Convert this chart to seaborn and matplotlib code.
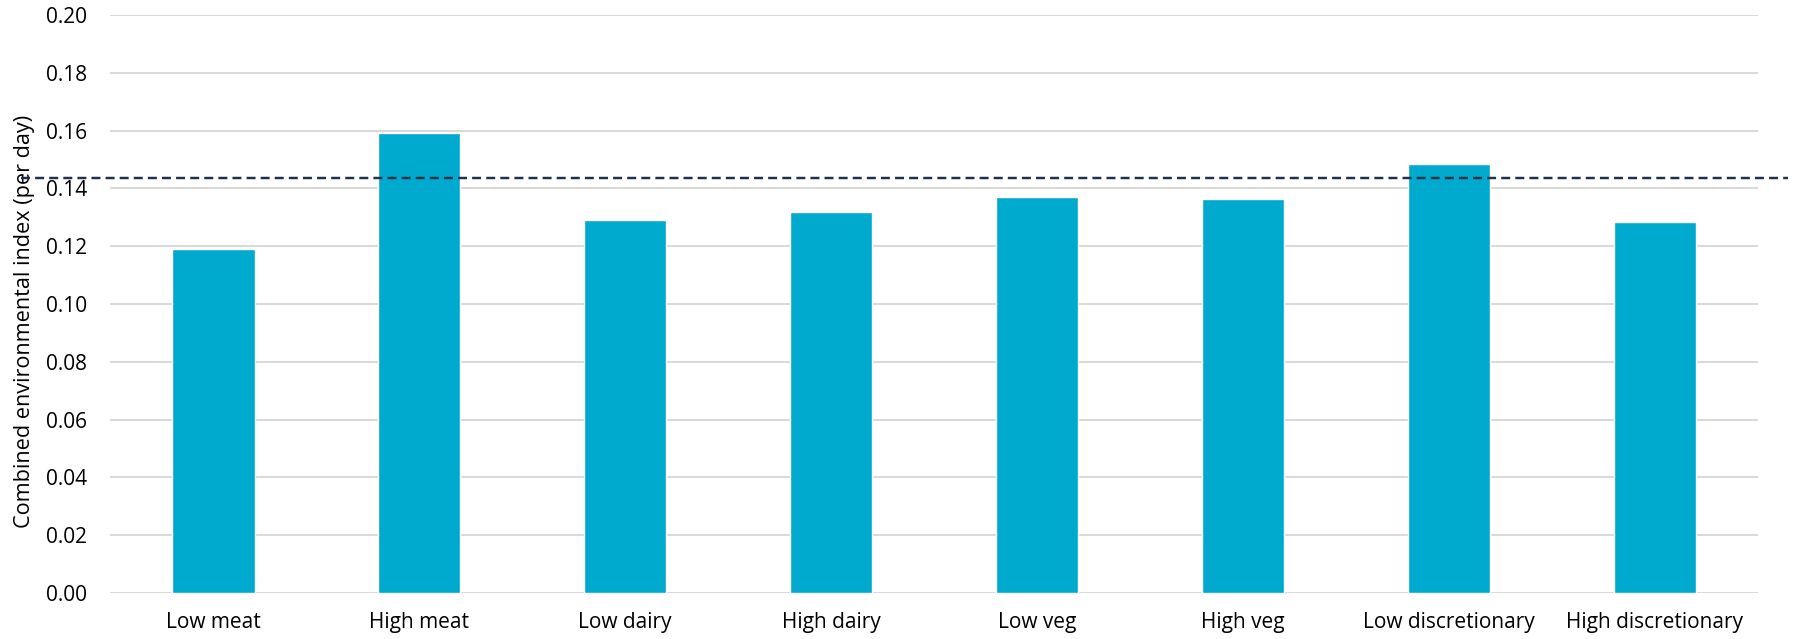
import matplotlib
matplotlib.use("Agg")
import matplotlib.pyplot as plt
import seaborn as sns
import pandas as pd

categories = ["Low meat", "High meat", "Low dairy", "High dairy",
              "Low veg", "High veg", "Low discretionary", "High discretionary"]
values = [0.1189, 0.1591, 0.1289, 0.1317, 0.1371, 0.1362, 0.1484, 0.1284]
reference_value = 0.1436
y_ticks = [0.00, 0.02, 0.04, 0.06, 0.08, 0.10, 0.12, 0.14, 0.16, 0.18, 0.20]

sns.set_theme(style="white")
plt.rcParams["font.family"] = ["Open Sans", "DejaVu Sans"]

df = pd.DataFrame({"scenario": categories, "index": values})

fig = plt.figure(figsize=(17.98, 6.39), dpi=100)
left, right = 110.4 / 1798, 1757.7 / 1798
ax = fig.add_axes([left, 0.072, right - left, 0.9045])

sns.barplot(data=df, x="scenario", y="index", color="#00A9CE",
            saturation=1, width=0.40, ax=ax, zorder=3)

ax.set_ylim(0, 0.20)
ax.set_yticks(y_ticks)
ax.set_yticklabels([f"{t:.2f}" for t in y_ticks])
ax.yaxis.grid(True, color="#D9D9D9", linewidth=1.45, zorder=0)
ax.set_axisbelow(True)
for s in ax.spines.values():
    s.set_visible(False)

ax.tick_params(axis="both", length=0, labelsize=15, colors="#000000")
ax.tick_params(axis="y", pad=16.5)
ax.tick_params(axis="x", pad=14)
ax.set_xlabel("")
ax.set_ylabel("Combined environmental index (per day)", fontsize=15.6,
              color="#000000", labelpad=8, y=0.47)
ax.set_xlim(-0.5, len(categories) - 0.5)

# average reference line running across the whole chart width
ax.axhline(reference_value, xmin=-0.054, xmax=1.0182, color="#1F3144",
           linewidth=1.75, linestyle=(0, (3.7, 2.1)), clip_on=False, zorder=4)

fig.savefig("out.png", dpi=100, facecolor="white")
